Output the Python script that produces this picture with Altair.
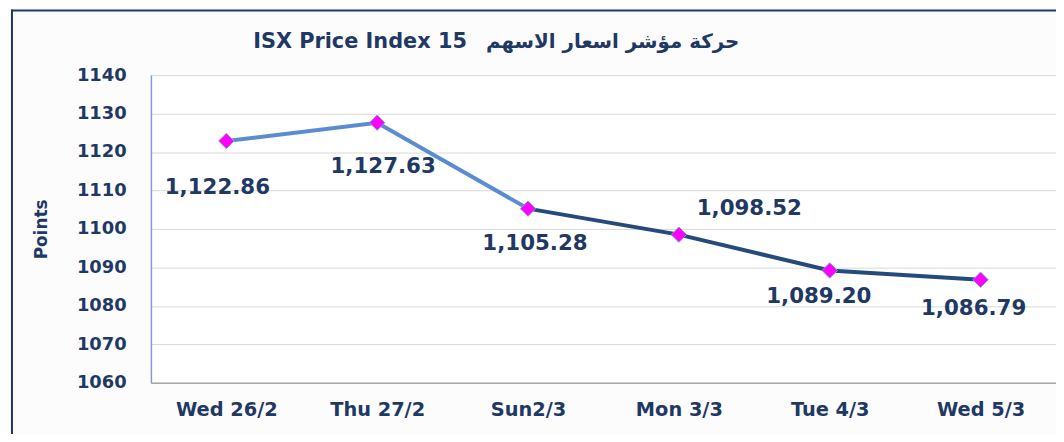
import altair as alt
import pandas as pd

days = ["Wed 26/2", "Thu 27/2", "Sun2/3", "Mon 3/3", "Tue 4/3", "Wed 5/3"]
values = [1122.86, 1127.63, 1105.28, 1098.52, 1089.20, 1086.79]
labels = ["1,122.86", "1,127.63", "1,105.28", "1,098.52", "1,089.20", "1,086.79"]
y_ticks = [1060, 1070, 1080, 1090, 1100, 1110, 1120, 1130, 1140]
title_en = "ISX Price Index 15"
title_ar = "حركة مؤشر اسعار الاسهم"

df = pd.DataFrame({"day": days, "value": values, "label": labels, "idx": list(range(len(days)))})

NAVY = "#1F3864"
FONT = "DejaVu Sans"

x = alt.X("day:N", sort=days, scale=alt.Scale(paddingInner=0, paddingOuter=0),
          axis=alt.Axis(title=None, labelAngle=0, labelFontSize=19.5, labelFontWeight="bold",
                        labelColor=NAVY, labelFont=FONT, labelPadding=18, ticks=False,
                        domainColor="#A6A6A6", domainWidth=1.5, grid=False))
y = alt.Y("value:Q", scale=alt.Scale(domain=[1060, 1140], nice=False, zero=False),
          axis=alt.Axis(title="Points", values=y_ticks, format="d", labelFontSize=18,
                        labelFontWeight="bold", labelColor=NAVY, labelFont=FONT, labelPadding=25,
                        ticks=False, domainColor="#7F9FD3", domainWidth=1.5, gridColor="#D9D9D9",
                        gridWidth=1, titleFontSize=17, titleFontWeight="bold",
                        titleColor=NAVY, titleFont=FONT, titleX=-110, titleY=155,
                        titleAngle=270, titleAlign="center", titleBaseline="middle"))

base = alt.Chart(df)

line_light = base.transform_filter("datum.idx <= 2").mark_line(
    color="#5B8CD1", strokeWidth=4).encode(x=x, y=y)
line_dark = base.transform_filter("datum.idx >= 2").mark_line(
    color="#254A7C", strokeWidth=4).encode(x=x, y=y)
points = base.mark_point(shape="diamond", filled=True, fill="#FF00FF", stroke="#7F9FD8",
                         strokeWidth=1, size=240, opacity=1).encode(x=x, y=y)

offsets = {
    "Wed 26/2": (-9, 47),
    "Thu 27/2": (6, 45),
    "Sun2/3": (7, 36),
    "Mon 3/3": (71, -26),
    "Tue 4/3": (-11, 27),
    "Wed 5/3": (-7, 30),
}
text_layers = []
for d in days:
    dx, dy = offsets[d]
    text_layers.append(
        base.transform_filter(alt.datum.day == d).mark_text(
            font=FONT, fontSize=21.5, fontWeight="bold", color=NAVY, dx=dx, dy=dy,
            align="center", baseline="middle").encode(x=x, y=y, text="label:N")
    )

single = alt.Chart(alt.Data(values=[{"en": title_en, "ar": title_ar}]))
title_en_mark = single.mark_text(font=FONT, fontSize=21, fontWeight="bold", color=NAVY,
                                 align="left", baseline="middle").encode(
    x=alt.value(103), y=alt.value(-33), text="en:N")
title_ar_mark = single.mark_text(font=FONT, fontSize=20, fontWeight="bold", color=NAVY,
                                 align="right", baseline="middle").encode(
    x=alt.value(593), y=alt.value(-33), text="ar:N")
frame_left = single.mark_rule(color=NAVY, strokeWidth=2).encode(
    x=alt.value(-140), y=alt.value(-66), y2=alt.value(400))
frame_top = single.mark_rule(color=NAVY, strokeWidth=2).encode(
    x=alt.value(-141), x2=alt.value(920), y=alt.value(-65))

chart = alt.layer(line_light, line_dark, points, *text_layers, title_en_mark, title_ar_mark,
                  frame_left, frame_top).properties(
    width=912, height=310,
    autosize=alt.AutoSizeParams(type="none"),
    padding={"left": 144, "top": 66, "right": 0, "bottom": 50},
    background="#FCFCFC",
).configure_view(fill="white", stroke=None)

chart.save("out.html", embed_options={"renderer": "svg", "actions": False})
